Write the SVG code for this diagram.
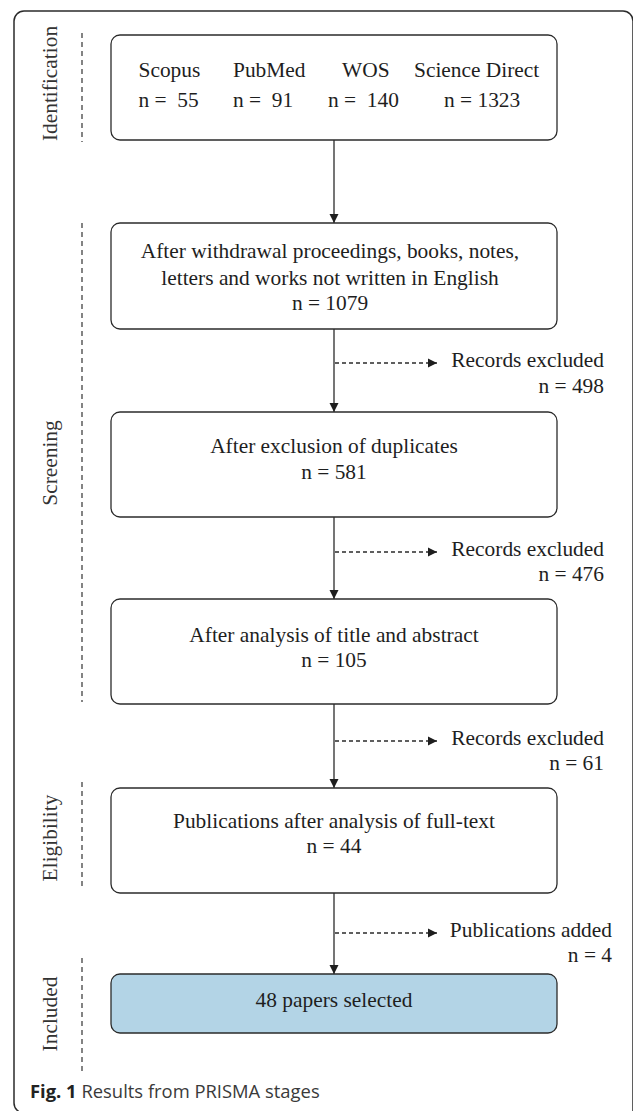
<svg xmlns="http://www.w3.org/2000/svg" width="633" height="1111" viewBox="0 0 633 1111">
<style>
.box{fill:#fff;stroke:#2b2b2b;stroke-width:1.3}
.inc{fill:#b3d4e6}
.t{font-family:"Liberation Serif","Times New Roman",serif;font-size:21.4px;fill:#1e1e1e}
.c{text-anchor:middle}
.e{text-anchor:end}
.lab{font-family:"Liberation Serif","Times New Roman",serif;font-size:21.4px;fill:#333;text-anchor:middle}
.sep{stroke:#333;stroke-width:1.2;stroke-dasharray:5 4;fill:none}
.solid{stroke:#2b2b2b;stroke-width:1.3;fill:none}
.dash{stroke:#2b2b2b;stroke-width:1.3;stroke-dasharray:4 3;fill:none}
.cap{font-family:"Open Sans","Noto Sans",sans-serif;font-size:18.4px;fill:#3a3a3a}
</style>
<defs>
<marker id="ah" viewBox="0 0 10 10" refX="10" refY="5" markerWidth="9" markerHeight="10" markerUnits="userSpaceOnUse" orient="auto">
<path d="M0,0 L10,5 L0,10 z" fill="#1e1e1e"/>
</marker>
</defs>
<path d="M24,1113 A10,10 0 0 1 14,1103 V21 A10,10 0 0 1 24,11 H623 A10,10 0 0 1 633,21 V1111" fill="none" stroke="#2b2b2b" stroke-width="1.5"/>
<g id="stages">
<line class="sep" x1="82" y1="33" x2="82" y2="142"/>
<line class="sep" x1="82" y1="223" x2="82" y2="702"/>
<line class="sep" x1="82" y1="782" x2="82" y2="890"/>
<line class="sep" x1="82" y1="958" x2="82" y2="1073"/>
<text class="lab" transform="translate(57,83.5) rotate(-90)">Identification</text>
<text class="lab" transform="translate(57,463) rotate(-90)">Screening</text>
<text class="lab" transform="translate(57,838) rotate(-90)">Eligibility</text>
<text class="lab" transform="translate(57,1014) rotate(-90)">Included</text>
</g>
<g id="connectors">
<line class="solid" x1="334" y1="140" x2="334" y2="223" marker-end="url(#ah)"/>
<line class="solid" x1="334" y1="329" x2="334" y2="412" marker-end="url(#ah)"/>
<line class="solid" x1="334" y1="517" x2="334" y2="599" marker-end="url(#ah)"/>
<line class="solid" x1="334" y1="704" x2="334" y2="788" marker-end="url(#ah)"/>
<line class="solid" x1="334" y1="893" x2="334" y2="974" marker-end="url(#ah)"/>
<line class="dash" x1="335" y1="363" x2="437" y2="363" marker-end="url(#ah)"/>
<line class="dash" x1="335" y1="552" x2="437" y2="552" marker-end="url(#ah)"/>
<line class="dash" x1="335" y1="741" x2="437" y2="741" marker-end="url(#ah)"/>
<line class="dash" x1="335" y1="933" x2="437" y2="933" marker-end="url(#ah)"/>
</g>
<g id="node-identification">
<rect class="box" x="111" y="35" width="446" height="105" rx="9"/>
<text class="t" x="138.5" y="77">Scopus</text>
<text class="t" x="233" y="77">PubMed</text>
<text class="t" x="342" y="77">WOS</text>
<text class="t" x="414" y="77">Science Direct</text>
<text class="t" x="138.5" y="107" xml:space="preserve">n =  55</text>
<text class="t" x="233" y="107" xml:space="preserve">n =  91</text>
<text class="t" x="328" y="107" xml:space="preserve">n =  140</text>
<text class="t" x="444" y="107">n = 1323</text>
</g>
<g id="node-withdrawal">
<rect class="box" x="111" y="223" width="446" height="106" rx="9"/>
<text class="t c" x="330" y="258">After withdrawal proceedings, books, notes,</text>
<text class="t c" x="330" y="285">letters and works not written in English</text>
<text class="t c" x="330" y="310">n = 1079</text>
</g>
<g id="excl-1">
<text class="t e" x="604" y="367">Records excluded</text>
<text class="t e" x="604" y="393">n = 498</text>
</g>
<g id="node-duplicates">
<rect class="box" x="111" y="412" width="446" height="105" rx="9"/>
<text class="t c" x="334" y="453">After exclusion of duplicates</text>
<text class="t c" x="334" y="479">n = 581</text>
</g>
<g id="excl-2">
<text class="t e" x="604" y="556">Records excluded</text>
<text class="t e" x="604" y="581">n = 476</text>
</g>
<g id="node-title">
<rect class="box" x="111" y="599" width="446" height="105" rx="9"/>
<text class="t c" x="334" y="642">After analysis of title and abstract</text>
<text class="t c" x="334" y="667">n = 105</text>
</g>
<g id="excl-3">
<text class="t e" x="604" y="745">Records excluded</text>
<text class="t e" x="604" y="770">n = 61</text>
</g>
<g id="node-fulltext">
<rect class="box" x="111" y="788" width="446" height="105" rx="9"/>
<text class="t c" x="334" y="828">Publications after analysis of full-text</text>
<text class="t c" x="334" y="853">n = 44</text>
</g>
<g id="added">
<text class="t e" x="612" y="937">Publications added</text>
<text class="t e" x="612" y="962">n = 4</text>
</g>
<g id="node-included">
<rect class="box inc" x="111" y="974" width="446" height="59" rx="9"/>
<text class="t c" x="334" y="1007">48 papers selected</text>
</g>
<text class="cap" x="30" y="1098"><tspan font-weight="bold" fill="#222">Fig. 1</tspan> Results from PRISMA stages</text>
</svg>
